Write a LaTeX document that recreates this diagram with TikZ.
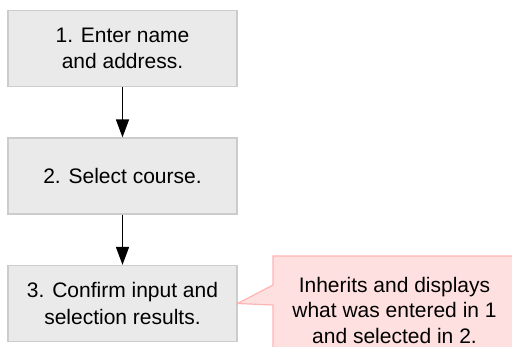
\documentclass[tikz,border=0pt]{standalone}
\usepackage{fontspec}
\setmainfont{Liberation Sans}
\usetikzlibrary{arrows.meta}
\definecolor{boxfill}{RGB}{234,234,234}
\definecolor{boxline}{RGB}{204,204,204}
\definecolor{notefill}{RGB}{255,224,224}
\definecolor{noteline}{RGB}{255,180,180}
\begin{document}
\begin{tikzpicture}[x=1pt,y=-1pt,
  stepbox/.style={draw=boxline,fill=boxfill,line width=1.2pt,minimum width=229pt,minimum height=76pt,align=center,inner sep=0pt,font=\fontsize{21}{26.5}\selectfont},
  flow/.style={line width=1.5pt,-{Triangle[width=13pt,length=18pt]}},
  notetext/.style={align=center,inner sep=0pt,font=\fontsize{21}{25.5}\selectfont}]
\useasboundingbox (0,0) rectangle (512,346);
\node[stepbox] (b1) at (122.5,48.5) {1. Enter name\\and address.};
\node[stepbox] (b2) at (122.5,176) {2. Select course.};
\node[stepbox] (b3) at (122.5,303.5) {3. Confirm input and\\selection results.};
\draw[flow] (b1.south) -- (b2.north);
\draw[flow] (b2.south) -- (b3.north);
\path[draw=noteline,fill=notefill,line width=1.2pt]
  (530,360) -- (273,360) -- (273,305) -- (b3.east) -- (273,285) -- (273,256) -- (530,256);
\node[notetext] (note) at (394.5,310) {Inherits and displays\\what was entered in 1\\and selected in 2.};
\end{tikzpicture}
\end{document}
